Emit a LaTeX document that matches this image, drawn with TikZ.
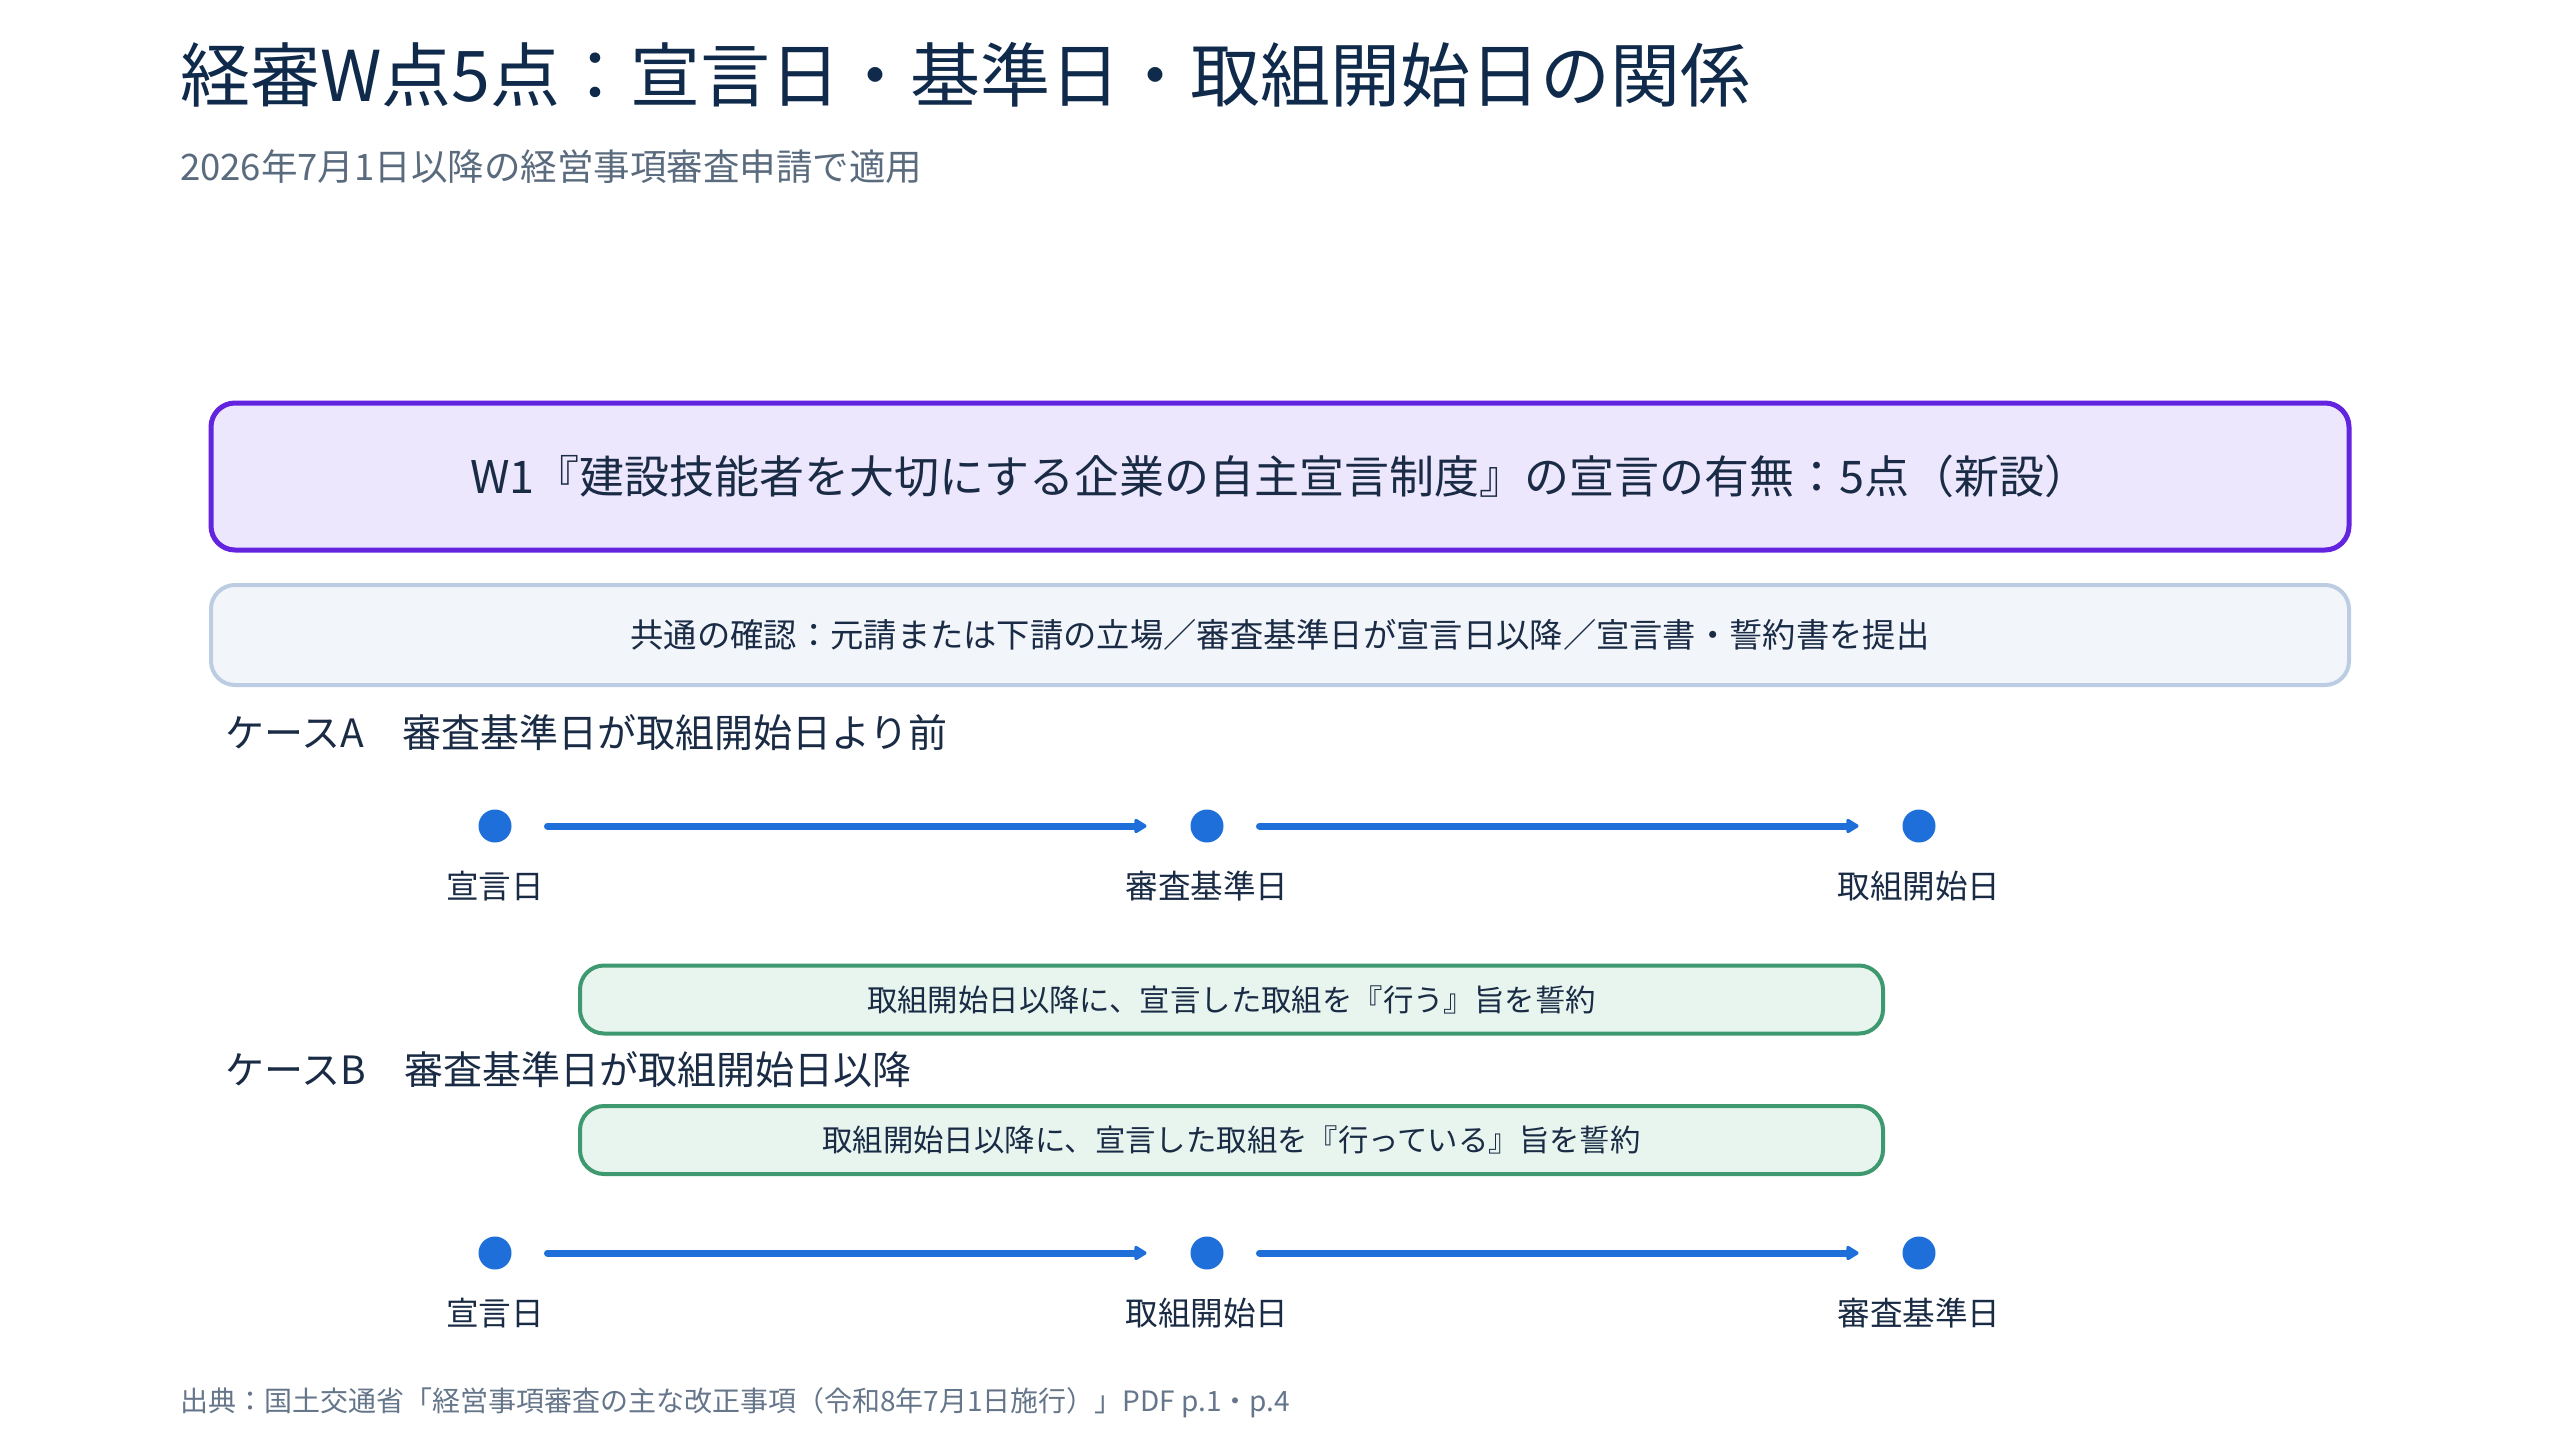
\documentclass[tikz,border=0pt]{standalone}
\usepackage{fontspec}
\setmainfont{Noto Sans CJK JP}
\usetikzlibrary{arrows.meta}
\definecolor{navy}{HTML}{0F2A4A}
\definecolor{ink}{HTML}{1A2B45}
\definecolor{subgray}{HTML}{5B6B7E}
\definecolor{footgray}{HTML}{66768A}
\definecolor{violetline}{HTML}{6324E0}
\definecolor{violetfill}{HTML}{EDE7FD}
\definecolor{commonfill}{HTML}{F2F5FA}
\definecolor{commonline}{HTML}{BCCDE3}
\definecolor{greenfill}{HTML}{E8F5EE}
\definecolor{greenline}{HTML}{3E9970}
\definecolor{tlblue}{HTML}{1F6FDB}
\begin{document}
\begin{tikzpicture}[x=1pt,y=-1pt,
  every node/.style={inner sep=0pt, outer sep=0pt, text=ink},
  titletext/.style={anchor=west, text=navy, font=\fontsize{70}{82}\selectfont},
  subtext/.style={anchor=west, text=subgray, font=\fontsize{36.5}{44}\selectfont},
  mainbox/.style={draw=violetline, fill=violetfill, line width=5pt, rounded corners=24pt,
    minimum width=2138pt, minimum height=147pt, font=\fontsize{45}{53}\selectfont},
  commonbox/.style={draw=commonline, fill=commonfill, line width=4pt, rounded corners=24pt,
    minimum width=2138pt, minimum height=100pt, font=\fontsize{33.3}{40}\selectfont},
  pledgebox/.style={draw=greenline, fill=greenfill, line width=4pt, rounded corners=24pt,
    minimum width=1303pt, minimum height=68pt, font=\fontsize{30.4}{36}\selectfont},
  casetext/.style={anchor=west, font=\fontsize{39}{47}\selectfont},
  dot/.style={circle, fill=tlblue, minimum size=33pt},
  dotlabel/.style={font=\fontsize{32.6}{39}\selectfont},
  tlarrow/.style={draw=tlblue, line width=7pt, line cap=round,
    -{Triangle[length=14pt,width=16pt,round]}, shorten <=36pt, shorten >=44pt},
  foottext/.style={anchor=west, text=footgray, font=\fontsize{28}{34}\selectfont}
]
\fill[white] (0,0) rectangle (2560,1440);
\useasboundingbox (0,0) rectangle (2560,1440);

\node[titletext] (title) at (180,75) {経審W点5点：宣言日・基準日・取組開始日の関係};
\node[subtext] (subtitle) at (180,167) {2026年7月1日以降の経営事項審査申請で適用};

\node[mainbox] (main) at (1280,476.5) {W1『建設技能者を大切にする企業の自主宣言制度』の宣言の有無：5点（新設）};
\node[commonbox] (common) at (1280,635) {共通の確認：元請または下請の立場／審査基準日が宣言日以降／宣言書・誓約書を提出};

\node[casetext] (caseA) at (225,733) {ケースA　審査基準日が取組開始日より前};
\node[dot] (a1) at (495,826) {};
\node[dot] (a2) at (1207,826) {};
\node[dot] (a3) at (1919,826) {};
\draw[tlarrow] (a1) -- (a2);
\draw[tlarrow] (a2) -- (a3);
\node[dotlabel] (la1) at (495,886) {宣言日};
\node[dotlabel] (la2) at (1207,886) {審査基準日};
\node[dotlabel] (la3) at (1919,886) {取組開始日};
\node[pledgebox] (pA) at (1231.5,999.5) {取組開始日以降に、宣言した取組を『行う』旨を誓約};

\node[casetext] (caseB) at (225,1070) {ケースB　審査基準日が取組開始日以降};
\node[pledgebox] (pB) at (1231.5,1140) {取組開始日以降に、宣言した取組を『行っている』旨を誓約};
\node[dot] (b1) at (495,1253) {};
\node[dot] (b2) at (1207,1253) {};
\node[dot] (b3) at (1919,1253) {};
\draw[tlarrow] (b1) -- (b2);
\draw[tlarrow] (b2) -- (b3);
\node[dotlabel] (lb1) at (495,1313) {宣言日};
\node[dotlabel] (lb2) at (1207,1313) {取組開始日};
\node[dotlabel] (lb3) at (1919,1313) {審査基準日};

\node[foottext] (foot) at (180,1403) {出典：国土交通省「経営事項審査の主な改正事項（令和8年7月1日施行）」PDF p.1・p.4};
\end{tikzpicture}
\end{document}
